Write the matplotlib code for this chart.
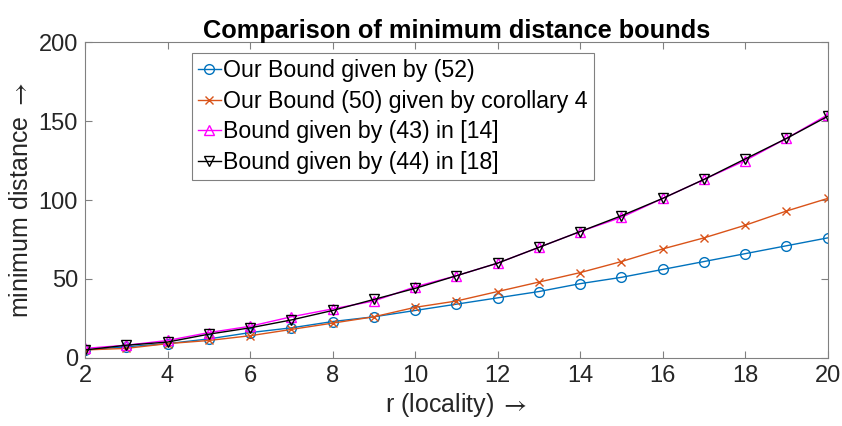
import matplotlib
matplotlib.use("Agg")
import matplotlib.pyplot as plt

plt.rcParams["font.family"] = ["Liberation Sans", "DejaVu Sans"]
plt.rcParams["mathtext.fontset"] = "stix"

r = list(range(2, 21))
bound_52 = [5, 7, 9, 12, 16, 19, 23, 26, 30, 34, 38, 42, 47, 51, 56, 61, 66, 71, 76]
bound_50 = [5, 6, 9, 11, 14, 18, 22, 26, 32, 36, 42, 48, 54, 61, 69, 76, 84, 93, 101]
bound_43 = [6, 8, 11, 16, 20, 26, 31, 36, 45, 52, 60, 70, 80, 89, 101, 113, 125, 139, 154]
bound_44 = [5, 8, 10, 15, 19, 24, 30, 37, 44, 52, 60, 70, 80, 90, 101, 113, 126, 139, 153]

labels = [
    "Our Bound given by (52)",
    "Our Bound (50) given by corollary 4",
    "Bound given by (43) in [14]",
    "Bound given by (44) in [18]",
]

fig = plt.figure(figsize=(8.42, 4.26), dpi=100)
ax = fig.add_axes([0.101, 0.160, 0.882, 0.741])

ax.plot(r, bound_52, color="#0072BD", marker="o", mfc="none", ms=7, lw=1, label=labels[0])
ax.plot(r, bound_50, color="#D95319", marker="x", ms=6, lw=1, label=labels[1])
ax.plot(r, bound_43, color="#FF00FF", marker="^", mfc="none", ms=7, lw=1, label=labels[2])
ax.plot(r, bound_44, color="black", marker="v", mfc="none", ms=7, lw=1, label=labels[3])

ax.set_xlim(2, 20)
ax.set_ylim(0, 200)
ax.set_xticks(range(2, 21, 2))
ax.set_yticks(range(0, 201, 50))
ax.tick_params(direction="in", top=True, right=True, labelsize=17, labelcolor="#262626",
               color="#808080", length=5, pad=5)
for s in ax.spines.values():
    s.set_color("#808080")
    s.set_linewidth(0.8)

ax.set_xlabel(r"r (locality) $\rightarrow$", fontsize=18, color="#262626", labelpad=3)
ax.set_ylabel(r"minimum distance $\rightarrow$", fontsize=18, color="#262626", labelpad=4)
ax.set_title("Comparison of minimum distance bounds", fontsize=18.3, fontweight="bold", pad=3)

leg = ax.legend(loc="upper left", bbox_to_anchor=(0.144, 0.965), borderaxespad=0,
                fontsize=16.7, handlelength=1.0, handletextpad=0.1, labelspacing=0.33,
                borderpad=0.25, fancybox=False, framealpha=1)
leg.get_frame().set_edgecolor("#808080")
leg.get_frame().set_linewidth(0.8)

fig.savefig("out.png", dpi=100)
